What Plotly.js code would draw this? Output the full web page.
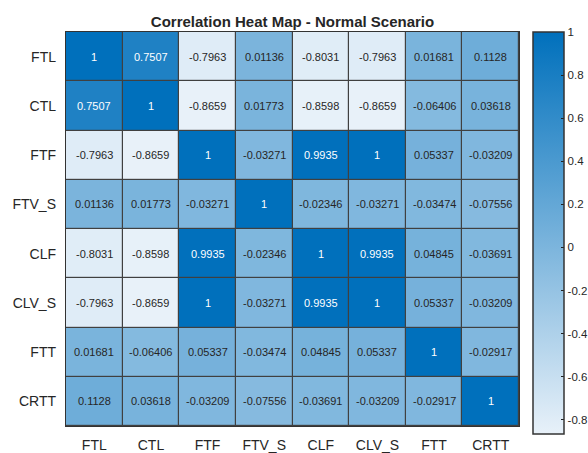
<!DOCTYPE html>
<html>
<head>
<meta charset="utf-8">
<script src="https://cdn.plot.ly/plotly-3.0.1.min.js"></script>
<style>html,body{margin:0;padding:0;background:#fff;}#chart{width:588px;height:453px;}</style>
</head>
<body>
<div id="chart"></div>
<script>
var labels = ["FTL", "CTL", "FTF", "FTV_S", "CLF", "CLV_S", "FTT", "CRTT"];

var rowFTL   = [1, 0.7507, -0.7963, 0.01136, -0.8031, -0.7963, 0.01681, 0.1128];
var rowCTL   = [0.7507, 1, -0.8659, 0.01773, -0.8598, -0.8659, -0.06406, 0.03618];
var rowFTF   = [-0.7963, -0.8659, 1, -0.03271, 0.9935, 1, 0.05337, -0.03209];
var rowFTV_S = [0.01136, 0.01773, -0.03271, 1, -0.02346, -0.03271, -0.03474, -0.07556];
var rowCLF   = [-0.8031, -0.8598, 0.9935, -0.02346, 1, 0.9935, 0.04845, -0.03691];
var rowCLV_S = [-0.7963, -0.8659, 1, -0.03271, 0.9935, 1, 0.05337, -0.03209];
var rowFTT   = [0.01681, -0.06406, 0.05337, -0.03474, 0.04845, 0.05337, 1, -0.02917];
var rowCRTT  = [0.1128, 0.03618, -0.03209, -0.07556, -0.03691, -0.03209, -0.02917, 1];

var z = [rowFTL, rowCTL, rowFTF, rowFTV_S, rowCLF, rowCLV_S, rowFTT, rowCRTT];

var cbTickVals = [1, 0.8, 0.6, 0.4, 0.2, 0, -0.2, -0.4, -0.6, -0.8];
var cbTickText = ["1", "0.8", "0.6", "0.4", "0.2", "0", "-0.2", "-0.4", "-0.6", "-0.8"];

var zmin = Math.min.apply(null, z.map(function(r){return Math.min.apply(null, r);}));
var zmax = 1;

var annotations = [];
for (var i = 0; i < labels.length; i++) {
  for (var j = 0; j < labels.length; j++) {
    var v = z[i][j];
    var s = Number(v.toPrecision(4)).toString();
    annotations.push({
      x: labels[j], y: labels[i], xref: 'x', yref: 'y',
      text: s, showarrow: false,
      font: {family: 'Liberation Sans, Arial, sans-serif', size: 11,
             color: v > 0.6 ? '#ffffff' : '#262626'}
    });
  }
}

var trace = {
  type: 'heatmap',
  x: labels, y: labels, z: z,
  zmin: zmin, zmax: zmax,
  xgap: 1.2, ygap: 1.2,
  colorscale: [[0, '#e8f1f9'], [1, '#0070bc']],
  hoverinfo: 'none',
  colorbar: {
    thickness: 31, thicknessmode: 'pixels',
    len: 402, lenmode: 'pixels',
    x: 1.031, xanchor: 'left', xpad: 0,
    y: 1.0, yanchor: 'top', ypad: 0,
    outlinecolor: '#333333', outlinewidth: 1.5,
    tickmode: 'array', tickvals: cbTickVals, ticktext: cbTickText,
    ticks: 'inside', ticklen: 3, tickcolor: '#222',
    tickfont: {family: 'Liberation Sans, Arial, sans-serif', size: 11.5, color: '#262626'}
  }
};

var layout = {
  width: 588, height: 453,
  margin: {l: 66, r: 69, t: 32, b: 27, autoexpand: false},
  paper_bgcolor: '#ffffff',
  plot_bgcolor: '#404040',
  title: {
    text: '<b>Correlation Heat Map - Normal Scenario</b>',
    x: 0.5, xref: 'paper', xanchor: 'center',
    y: 1, yref: 'paper', yanchor: 'bottom', pad: {b: 5},
    font: {family: 'Liberation Sans, Arial, sans-serif', size: 15, color: '#262626'}
  },
  xaxis: {
    type: 'category', showgrid: false, zeroline: false, automargin: false,
    showline: true, mirror: true, linecolor: '#333', linewidth: 1.2,
    ticks: '', ticklabelstandoff: 6,
    tickfont: {family: 'Liberation Sans, Arial, sans-serif', size: 14, color: '#262626'}
  },
  yaxis: {
    type: 'category', autorange: 'reversed', showgrid: false, zeroline: false, automargin: false,
    showline: true, mirror: true, linecolor: '#333', linewidth: 1.2,
    ticks: '', ticklabelstandoff: 6,
    tickfont: {family: 'Liberation Sans, Arial, sans-serif', size: 14, color: '#262626'}
  },
  annotations: annotations
};

Plotly.newPlot('chart', [trace], layout, {displayModeBar: false, staticPlot: true});
</script>
</body>
</html>
